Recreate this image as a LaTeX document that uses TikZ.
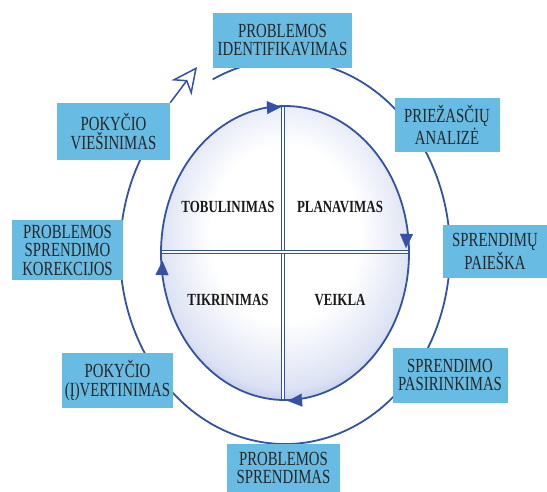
\documentclass[tikz,border=0pt]{standalone}
\usepackage{fontspec}
\setmainfont{Liberation Serif}
\newfontfamily\boxfont[FakeStretch=0.74]{Liberation Serif}
\newfontfamily\quarterfont[FakeStretch=0.76]{Liberation Serif}
\usetikzlibrary{arrows.meta,shapes.geometric}

\definecolor{ringblue}{RGB}{52,82,164}
\definecolor{boxblue}{RGB}{104,187,226}
\definecolor{shadeblue}{RGB}{112,138,208}
\pgfdeclareradialshading{ballshade}{\pgfpoint{0bp}{4bp}}{%
    color(0bp)=(white); color(15bp)=(white); color(26bp)=(shadeblue!25);
    color(32bp)=(shadeblue!70); color(36bp)=(shadeblue); color(100bp)=(shadeblue)}

\begin{document}
\begin{tikzpicture}[
        x=1pt, y=-1pt,
        stage/.style={fill=boxblue, text=black!85, align=center, inner sep=0pt,
            minimum height=55pt, font=\boxfont\fontsize{20}{18.5}\selectfont},
        quarter/.style={text=black!90, font=\quarterfont\fontsize{17}{16}\selectfont\bfseries},
        ring/.style={draw=ringblue, line width=1.8pt},
        divider/.style={draw=ringblue, line width=0.9pt, double=white, double distance=2.4pt},
        turn/.style={ringblue, -{Triangle[length=14pt, width=13pt]}, line width=0.1pt}
    ]
    \useasboundingbox (0,0) rectangle (547,491);

    \draw[ring] (285,252) ++(244:165 and 192)
        arc[start angle=244, end angle=578, x radius=165, y radius=192];

    \node[ellipse, draw=ringblue, line width=1.8pt, shading=ballshade,
        inner sep=0pt, outer sep=0pt, minimum width=248pt, minimum height=294pt]
        (cycle) at (285,253) {};
    \draw[divider] (283,107) -- (283,399);
    \draw[divider] (162,252) -- (408,252);

    \node[quarter] (tobul) at (228,207) {TOBULINIMAS};
    \node[quarter] (plan) at (340,207) {PLANAVIMAS};
    \node[quarter] (tikr) at (228,300) {TIKRINIMAS};
    \node[quarter] (veikla) at (340,300) {VEIKLA};

    \draw[turn] (266,107.6) -- (281,107);
    \draw[turn] (406.5,233) -- (406,248);
    \draw[turn] (303,400) -- (288,401);
    \draw[turn] (162,276) -- (162.5,261);

    \node[stage, minimum width=139pt] (ident) at (282.5,40) {PROBLEMOS\\IDENTIFIKAVIMAS};
    \node[stage, minimum width=105pt, minimum height=54pt] (priez) at (447,125) {PRIEŽASČIŲ\\ANALIZĖ};
    \node[stage, minimum width=104pt, minimum height=53pt] (paieska) at (495,251.5) {SPRENDIMŲ\\PAIEŠKA};
    \node[stage, minimum width=115pt] (pasir) at (450,375) {SPRENDIMO\\PASIRINKIMAS};
    \node[stage, minimum width=113pt, minimum height=48pt] (sprend) at (283.5,468) {PROBLEMOS\\SPRENDIMAS};
    \node[stage, minimum width=111pt] (ivert) at (117.5,380.5) {POKYČIO\\(Į)VERTINIMAS};
    \node[stage, minimum width=111pt, minimum height=60pt] (korek) at (67.5,250) {PROBLEMOS\\SPRENDIMO\\KOREKCIJOS};
    \node[stage, minimum width=113pt, minimum height=57pt] (viesin) at (113.5,131.5) {POKYČIO\\VIEŠINIMAS};

    \coordinate (vtip) at (197,67);
    \draw[ring, line width=1.5pt, -{Stealth[open, length=26pt, width=25pt, inset=8pt]}]
        (viesin.north east) -- (vtip);
\end{tikzpicture}
\end{document}
